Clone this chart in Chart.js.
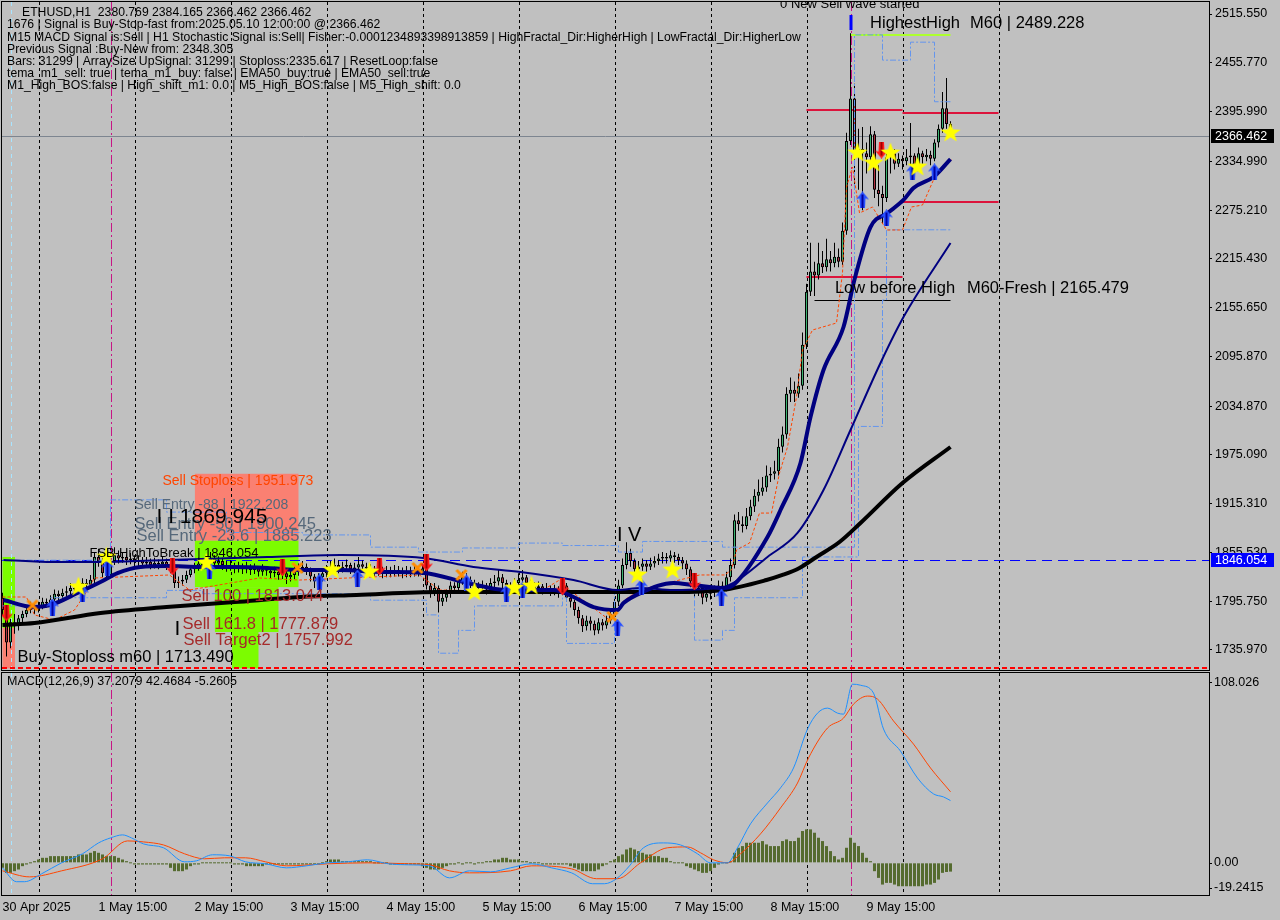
<!DOCTYPE html>
<html>
<head>
<meta charset="utf-8">
<title>ETHUSD,H1</title>
<script src="https://cdn.jsdelivr.net/npm/chart.js@4.4.1/dist/chart.umd.min.js"></script>
<style>
  html, body { margin: 0; padding: 0; background: #c0c0c0; }
  #wrap { position: relative; width: 1280px; height: 920px; overflow: hidden; background: #c0c0c0; }
  #wrap canvas { position: absolute; left: 0; }
  #priceChart { top: 0; }
  #macdChart { top: 671px; }
</style>
</head>
<body>
<div id="wrap">
  <canvas id="priceChart" width="1280" height="671"></canvas>
  <canvas id="macdChart" width="1280" height="249"></canvas>
</div>
<script>
// H1 bars, 30 Apr 15:00 -> 10 May 12:00 (index 0..237)
const firstOpen = 1800;
const closes = [
  1785,1745,1770,1765,1775,1780,1785,1788,1786,1790,
  1795,1793,1798,1805,1802,1806,1808,1812,1810,1815,
  1818,1816,1822,1850,1845,1830,1828,1845,1852,1848,
  1850,1846,1848,1844,1846,1842,1844,1840,1843,1841,
  1844,1840,1836,1818,1820,1822,1828,1835,1838,1842,
  1840,1844,1848,1842,1845,1840,1838,1840,1836,1838,
  1835,1838,1834,1836,1832,1835,1833,1830,1832,1828,
  1830,1825,1828,1832,1836,1838,1834,1826,1820,1825,
  1830,1834,1838,1840,1836,1838,1840,1835,1837,1841,
  1838,1836,1834,1832,1835,1830,1833,1831,1834,1832,
  1830,1833,1831,1834,1832,1836,1815,1808,1812,1795,
  1800,1805,1815,1812,1820,1825,1822,1818,1815,1812,
  1815,1810,1818,1820,1825,1818,1815,1812,1818,1822,
  1825,1818,1815,1812,1814,1810,1812,1808,1810,1806,
  1815,1800,1795,1785,1775,1765,1772,1768,1760,1770,
  1766,1772,1780,1795,1815,1840,1855,1845,1835,1838,
  1842,1838,1842,1845,1848,1850,1848,1852,1850,1846,
  1842,1835,1820,1808,1812,1800,1805,1810,1808,1815,
  1812,1825,1840,1895,1890,1888,1900,1912,1925,1930,
  1935,1950,1952,1955,1985,2000,2050,2055,2050,2060,
  2110,2175,2200,2195,2210,2205,2215,2210,2218,2212,
  2250,2360,2412,2346,2350,2345,2340,2368,2300,2295,
  2290,2340,2345,2332,2338,2335,2340,2342,2330,2345,
  2340,2343,2338,2358,2375,2400,2380.769,2366.462
];
const highs = [
  1806,1790,1774,1780,1779,1784,1790,1795,1792,1795,
  1800,1799,1803,1810,1809,1811,1814,1818,1816,1822,
  1824,1823,1828,1856,1860,1850,1838,1866,1862,1858,
  1856,1853,1855,1852,1852,1850,1850,1848,1849,1847,
  1850,1848,1843,1838,1826,1828,1833,1840,1843,1849,
  1847,1851,1856,1852,1851,1849,1845,1846,1843,1844,
  1842,1844,1841,1842,1839,1841,1839,1837,1838,1835,
  1836,1833,1834,1838,1842,1845,1842,1837,1829,1830,
  1836,1840,1845,1848,1846,1844,1847,1843,1843,1850,
  1846,1843,1841,1839,1841,1838,1839,1838,1840,1839,
  1837,1839,1838,1840,1839,1842,1840,1818,1818,1815,
  1806,1810,1820,1819,1826,1832,1830,1826,1822,1819,
  1821,1818,1824,1828,1834,1829,1822,1819,1824,1830,
  1834,1828,1822,1819,1820,1817,1818,1815,1816,1814,
  1822,1818,1804,1798,1789,1779,1778,1777,1772,1775,
  1774,1778,1787,1800,1822,1848,1868,1860,1848,1845,
  1848,1846,1849,1851,1854,1856,1855,1858,1856,1854,
  1850,1846,1838,1824,1818,1815,1812,1816,1815,1821,
  1820,1832,1848,1902,1905,1900,1910,1920,1933,1945,
  1948,1962,1960,1968,1995,2010,2058,2070,2065,2075,
  2125,2185,2235,2212,2235,2225,2240,2225,2235,2228,
  2260,2370,2492,2430,2375,2377,2358,2378,2372,2330,
  2305,2345,2352,2350,2345,2342,2350,2382,2345,2352,
  2348,2350,2348,2362,2380,2420,2437,2384.165
];
const lows = [
  1778,1728,1738,1756,1760,1770,1776,1781,1780,1782,
  1786,1788,1789,1795,1797,1798,1801,1803,1805,1806,
  1810,1810,1812,1818,1838,1825,1822,1825,1840,1842,
  1843,1840,1841,1838,1839,1837,1838,1835,1836,1835,
  1837,1834,1830,1812,1812,1815,1818,1825,1830,1833,
  1834,1836,1839,1836,1837,1834,1832,1833,1830,1831,
  1829,1830,1828,1829,1826,1827,1827,1824,1825,1822,
  1823,1817,1820,1823,1827,1831,1828,1820,1812,1815,
  1820,1825,1829,1832,1830,1831,1832,1829,1830,1832,
  1832,1830,1828,1826,1827,1824,1825,1825,1826,1826,
  1824,1825,1825,1826,1826,1828,1810,1800,1802,1782,
  1790,1795,1800,1806,1808,1816,1816,1812,1808,1806,
  1807,1804,1806,1813,1815,1812,1809,1806,1808,1814,
  1817,1812,1808,1806,1807,1804,1805,1802,1803,1800,
  1803,1795,1788,1778,1768,1758,1760,1760,1754,1756,
  1760,1762,1768,1775,1790,1812,1835,1838,1828,1830,
  1833,1832,1834,1837,1840,1842,1842,1844,1843,1840,
  1835,1828,1813,1800,1802,1792,1795,1798,1801,1803,
  1805,1808,1820,1836,1882,1880,1884,1895,1905,1918,
  1925,1930,1942,1945,1950,1978,1995,2040,2040,2045,
  2055,2105,2170,2170,2190,2198,2200,2200,2205,2205,
  2208,2245,2355,2300,2300,2275,2320,2330,2290,2280,
  2258,2285,2320,2325,2328,2325,2330,2330,2320,2325,
  2332,2335,2330,2335,2352,2370,2375,2366.462
];

const priceTicks = [2515.550, 2455.770, 2395.990, 2334.990, 2275.210, 2215.430, 2155.650,
  2095.870, 2034.870, 1975.090, 1915.310, 1855.530, 1795.750, 1735.970];
const timeLabels = ['30 Apr 2025', '1 May 15:00', '2 May 15:00', '3 May 15:00', '4 May 15:00',
  '5 May 15:00', '6 May 15:00', '7 May 15:00', '8 May 15:00', '9 May 15:00'];
const timeLabelIdx = [0, 24, 48, 72, 96, 120, 144, 168, 192, 216];
const daySeparators = [9, 33, 57, 81, 105, 129, 153, 177, 201, 225, 249];

// moving averages (bar index, price)
const emaSlowIdx = [0, 8, 24.5, 41, 58, 74.5, 88.5, 109.25, 142.75, 167.75, 180, 191, 195, 199.25, 203.5, 209.25, 214.5, 225, 237];
const emaSlowVal = [1766.6, 1769, 1781.4, 1788.6, 1794.7, 1800.9, 1803.4, 1807.0, 1807.0, 1807.0, 1809.5, 1821.7, 1827.9, 1836.5, 1850, 1868.3, 1891.6, 1940.6, 1984.8];
const emaFastIdx = [0.25, 7.75, 12, 18.75, 24.5, 28.75, 34.5, 41.25, 49.5, 57.75, 66.25, 74.5, 84.5, 94.5, 105.25, 116.25, 126.25, 137.75, 142.75, 147.75,
  153.75, 155.25, 159.5, 167.75, 172.75, 180.25, 182.75, 191.25, 194.5, 199.5, 202, 205.25, 210.25, 213, 217, 221.25, 225.25, 227.75, 232.75, 237];
const emaFastVal = [1797.2, 1788.6, 1791.1, 1805.8, 1819.3, 1830.3, 1837.7, 1838.9, 1837.7, 1837.7, 1836.5, 1834.0, 1834.0, 1831.6, 1830.4, 1818.1, 1809.5, 1809.5, 1800.9, 1788.6,
  1784.9, 1793.5, 1805.8, 1818.1, 1815.6, 1811.9, 1815.6, 1874.4, 1907.5, 1965.2, 2021.6, 2079.2, 2131.9, 2190, 2254.4, 2271.6, 2287.6, 2302.3, 2315.8, 2337.8];
const emaMidIdx = [0.25, 12.75, 24.5, 41.25, 66.25, 84.5, 105.25, 117.75, 129.5, 142.75, 153.75, 159.5, 167.75, 180.25, 182.75, 191.25, 198.75, 205.25, 212, 219.5, 225.25, 237];
const emaMidVal = [1846.3, 1843.8, 1843.8, 1846.3, 1849.9, 1852.4, 1848.7, 1837.7, 1831.6, 1821.7, 1809.5, 1811.9, 1809.5, 1813.2, 1818.1, 1850.0, 1879.4, 1932.1, 2005.6, 2087.8, 2144.1, 2234.8];
const trailIdx = [0, 6, 8, 13, 18, 20.5, 23, 41.75, 46.75, 64.25, 74.25, 104.25, 109.25, 134.25, 139.25, 141.75, 151.75, 155.5, 159.25, 174.25, 180.5,
  182.25, 183.5, 186.75, 189.25, 192.25, 194.25, 196.25, 198.5, 200, 202.5, 208.5, 210, 211, 212.5, 214.25, 217.5, 221, 225, 227.25, 230, 233.5, 237.25];
const trailVal = [1800.9, 1800.9, 1778.9, 1772.7, 1785.0, 1803.4, 1824.2, 1827.9, 1809.5, 1824.2, 1821.7, 1827.9, 1809.5, 1807.0, 1821.7, 1809.5, 1772.7, 1797.2, 1809.5, 1827.9, 1827.9,
  1834.0, 1858.5, 1867.1, 1903.8, 1903.8, 1952.9, 1984.8, 2046.1, 2103.7, 2128.2, 2136.8, 2198.1, 2303.5, 2328.0, 2271.6, 2279.0, 2250.8, 2250.8, 2279.0, 2281.4, 2320.6, 2336.6];
const bandUpIdx = [0, 27, 41, 56, 75, 92, 104, 115, 129, 140, 154, 160, 173, 180, 213, 220, 227, 233, 237];
const bandUpVal = [1846, 1920, 1905, 1880, 1877, 1862, 1856, 1861, 1867, 1864, 1856, 1869, 1869, 1862, 2490, 2459, 2481, 2408, 2408];
const bandLoIdx = [0, 12, 41, 50, 92, 106, 109, 114, 118, 140, 141, 153, 173, 180, 183, 200, 214, 220, 221, 237];
const bandLoVal = [1790, 1800, 1809, 1805, 1797, 1779, 1732, 1760, 1790, 1800, 1744, 1810, 1748, 1760, 1800, 1850, 2010, 2165, 2251, 2251];

// signal markers
const starIdx = [19, 26, 51, 82.5, 91.75, 118, 128, 132.25, 158.75, 167.5, 213.75, 217.75, 222, 228.75, 237];
const starPrice = [1813.2, 1850.0, 1842.6, 1834.0, 1831.6, 1807.0, 1811.9, 1814.4, 1827.9, 1834.0, 2345.2, 2332.9, 2345.2, 2328.0, 2369.7];
const buyArrowIdx = [12.5, 20, 26.25, 51.75, 79.25, 88.75, 116, 126, 130, 153.75, 159.75, 179.75, 215, 221, 227.5, 233];
const buyArrowPrice = [1788.6, 1805.8, 1836.5, 1834.0, 1819.3, 1824.2, 1818.1, 1805.8, 1809.5, 1763.8, 1813.2, 1800.9, 2287.6, 2265.5, 2321.9, 2321.9];
const sellArrowIdx = [1, 42.5, 70, 94.25, 106, 140, 173, 219.75];
const sellArrowPrice = [1781.3, 1837.7, 1836.5, 1837.7, 1842.6, 1813.2, 1819.3, 2348.8];
const crossIdx = [7.5, 73.75, 103.75, 114.75, 152.5];
const crossPrice = [1790.6, 1836.5, 1836.5, 1827.9, 1776.4];

// levels
const currentPrice = 2366.462;
const fsbHigh = 1846.054;
const buyStopM60 = 1713.490;
const highestHigh = 2489.228;
const lowBeforeHigh = 2165.479;
const sellLevels = { stop: 1951.973, e88: 1922.208, e50: 1900.245, e236: 1885.223, wave2: 1869.945, s100: 1813.044, s1618: 1777.879, target2: 1757.992 };
const dayHighLow = [{ from: 201, to: 225, hi: 2397.9, lo: 2193.2 }, { from: 225, to: 249, hi: 2394.2, lo: 2285.1 }];

// MACD(12,26,9)
const macdHist = [
  -3,-6,-6,-5,-4,-2,-1,0,1,2,
  3,3,4,4,4,4,4,4,4,5,
  5,5,6,7,6,5,4,4,4,3,
  2,1,0,-1,-1,-1,-1,-1,-1,-1,
  -1,-1,-3,-5,-5,-5,-4,-2,-1,-1,
  0,0,0,0,0,0,0,0,-1,-1,
  -1,-2,-2,-2,-2,-2,-1,-1,-1,-1,
  -1,-1,-1,-1,-1,-1,-1,-1,-1,-1,
  0,1,2,2,2,1,1,1,1,1,
  1,1,1,0,0,0,0,-1,-1,-1,
  -1,-1,-1,-1,-1,-2,-3,-4,-4,-4,
  -3,-2,-1,-1,0,-1,0,0,-1,0,
  0,1,1,2,2,3,3,2,2,2,
  1,1,0,0,0,-1,-1,-1,-1,-1,
  -1,-1,-2,-3,-4,-5,-5,-5,-5,-4,
  -2,-1,1,2,4,5,8,9,8,7,
  6,5,5,4,4,3,3,1,0,0,
  0,-2,-3,-4,-5,-6,-6,-5,-3,-1,
  0,0,1,6,9,10,12,12,12,12,
  13,11,10,10,10,13,14,13,13,15,
  19,20,20,18,15,13,10,7,4,2,
  3,9,15,12,10,6,3,1,-5,-9,
  -13,-12,-12,-13,-14,-14,-14,-14,-14,-14,
  -14,-13,-13,-12,-10,-6,-5.5,-5.2605
];
const macdMainIdx = [0, 3.5, 5.5, 9.75, 14.75, 20, 24, 27, 30, 32.25, 35.25, 40.25, 45.5, 48.5, 52.5, 56.75, 60.75, 65.75, 71, 76, 81.25,
  86.25, 91.25, 96.5, 101.5, 106.75, 111.75, 116.75, 122, 127, 132.25, 137.25, 142.25, 147.5, 150.5, 153.5, 156.75, 160.25, 165.25, 169.5, 173.75,
  177, 181.25, 183.75, 187, 191.25, 194.5, 197.75, 201.25, 203.75, 206.25, 208.75, 210.25, 212.5, 214.5, 217.75, 220.25, 224.5, 228.75, 232.75, 235.25, 237];
const macdMainVal = [-3, -11.3, -11.3, -6.6, 0, 5.4, 11.9, 14.9, 16.7, 14.9, 11.3, 9.0, 0.6, 1.2, 4.8, 4.2, 0.6, -0.6, -3.0, -1.8, 0,
  0.6, 1.8, -0.6, -1.2, -1.8, -9.0, -4.8, -5.4, -3.0, -0.6, -3.0, -6.0, -12.5, -12.5, -9.5, -1.8, 9.0, 11.9, 10.7, 5.4,
  0, 0, 9.0, 23.3, 35.8, 44.8, 56.7, 80.0, 89.5, 92.5, 89.5, 88.9, 106.8, 106.2, 101.5, 80.0, 66.8, 50.7, 41.2, 39.4, 37.2079];
const macdSignalIdx = [0, 6.75, 14.75, 25, 31.25, 35.25, 40.25, 45.5, 50.5, 55.5, 60.75, 65.75, 71, 81.25, 91.25, 101.5, 106.75, 111.75, 116.75, 127,
  132.25, 142.25, 148.5, 153.75, 159.5, 166.25, 171.25, 174.5, 177.75, 181.25, 184.5, 189.5, 194.5, 198.75, 201.5, 206.25, 210.25, 212.75, 216.25, 218.75,
  222.75, 227.75, 232, 237];
const macdSignalVal = [-4.8, -8.4, -4.8, 2.4, 13.1, 12.5, 10.7, 5.4, 2.4, 3.0, 3.0, 0.6, -1.8, -0.6, 0, -0.6, -1.2, -4.8, -6.0, -4.8,
  -1.8, -3.6, -9.5, -9.5, 0, 9.0, 9.5, 6.0, 1.8, 0, 5.4, 17.3, 32.8, 47.7, 62.7, 80.6, 86.5, 94.9, 99.7, 97.9,
  84.8, 71.0, 56.7, 42.4684];
const macdTicks = [108.026, 0, -19.2415];
const macdTickLabels = ['108.026', '0.00', '-19.2415'];

const infoLines = [
  'ETHUSD,H1  2380.769 2384.165 2366.462 2366.462',
  '1676 | Signal is Buy-Stop-fast from:2025.05.10 12:00:00 @ 2366.462',
  'M15 MACD Signal is:Sell | H1 Stochastic Signal is:Sell| Fisher:-0.0001234893398913859 | HighFractal_Dir:HigherHigh | LowFractal_Dir:HigherLow',
  'Previous Signal :Buy-New from: 2348.305',
  'Bars: 31299 | ArraySize UpSignal: 31299 | Stoploss:2335.617 | ResetLoop:false',
  'tema_m1_sell: true | tema_m1_buy: false | EMA50_buy:true | EMA50_sell:true',
  'M1_High_BOS:false | High_shift_m1: 0.0 | M5_High_BOS:false | M5_High_shift: 0.0'
];

// ---------------------------------------------------------------------------
const FONT = '"Liberation Sans", Arial, sans-serif';
Chart.defaults.font.family = FONT;
Chart.defaults.color = '#000';

const xMin = -0.125, xMax = 301.625; // 4 px per bar
const barIdx = closes.map((c, i) => i);
// crypto trades 24/7, each hourly bar opens at the previous close
const opens = closes.map((c, i) => i === 0 ? firstOpen : closes[i - 1]);
const pairs = (xs, ys) => xs.map((v, i) => ({ x: v, y: ys[i] }));

// the axes must not push the plot area around
function noScalePadding(s) {
  s.paddingTop = 0; s.paddingBottom = 0; s.paddingLeft = 0; s.paddingRight = 0;
}

function makeIcon(w, h, paint) {
  const c = document.createElement('canvas');
  c.width = w; c.height = h;
  paint(c.getContext('2d'));
  return c;
}
const starIcon = makeIcon(22, 22, g => {
  g.fillStyle = '#ffff00';
  g.beginPath();
  for (let k = 0; k < 10; k++) {
    const r = k % 2 ? 4.3 : 10.5;
    const a = -Math.PI / 2 + k * Math.PI / 5;
    g.lineTo(11 + r * Math.cos(a), 11 + r * Math.sin(a));
  }
  g.closePath();
  g.fill();
});
function arrowIcon(color, dark, up) {
  return makeIcon(13, 17, g => {
    if (!up) { g.translate(0, 17); g.scale(1, -1); }
    g.fillStyle = color;
    g.beginPath();
    g.moveTo(6.5, 0); g.lineTo(13, 8); g.lineTo(9.5, 7); g.lineTo(9, 17); g.lineTo(4, 17); g.lineTo(3.5, 7); g.lineTo(0, 8);
    g.closePath();
    g.fill();
    g.fillStyle = dark;
    g.fillRect(5.5, 3, 2, 14);
  });
}
const buyIcon = arrowIcon('#2850ff', '#0000a0', true);
const sellIcon = arrowIcon('#ff1a1a', '#a00000', false);
const crossIcon = makeIcon(14, 14, g => {
  g.strokeStyle = '#ff8c00';
  g.lineWidth = 3;
  g.beginPath();
  g.moveTo(2, 2); g.lineTo(12, 12);
  g.moveTo(12, 2); g.lineTo(2, 12);
  g.stroke();
});

function vline(ctx, x, top, bottom) {
  ctx.beginPath(); ctx.moveTo(x, top); ctx.lineTo(x, bottom); ctx.stroke();
}
function hline(ctx, x0, x1, y) {
  ctx.beginPath(); ctx.moveTo(x0, y); ctx.lineTo(x1, y); ctx.stroke();
}
const crisp = v => Math.round(v) + 0.5;

function drawVerticals(chart) {
  const { ctx, chartArea: a, scales: { x } } = chart;
  ctx.save();
  ctx.lineWidth = 1;
  ctx.strokeStyle = '#000';
  ctx.setLineDash([3, 3]);
  daySeparators.forEach(d => vline(ctx, crisp(x.getPixelForValue(d)), a.top, a.bottom));
  ctx.strokeStyle = '#c71585';
  ctx.setLineDash([9, 3, 2, 3]);
  [27, 212].forEach(d => vline(ctx, crisp(x.getPixelForValue(d)), a.top, a.bottom));
  ctx.strokeStyle = '#a8e4ff';
  ctx.setLineDash([4, 4]);
  vline(ctx, crisp(x.getPixelForValue(2)), a.top, a.bottom);
  ctx.restore();
}
function drawFrame(chart) {
  const { ctx, chartArea: a } = chart;
  ctx.save();
  ctx.strokeStyle = '#000';
  ctx.lineWidth = 1;
  ctx.strokeRect(a.left - 0.5, a.top - 0.5, a.right - a.left + 1, a.bottom - a.top + 1);
  ctx.restore();
}

const mainObjects = {
  id: 'mainObjects',
  beforeDatasetsDraw(chart) {
    const { ctx, chartArea: a, scales: { x, y } } = chart;
    const X = v => x.getPixelForValue(v), Y = v => y.getPixelForValue(v);
    ctx.save();
    ctx.beginPath();
    ctx.rect(a.left, a.top, a.right - a.left, a.bottom - a.top);
    ctx.clip();

    const zones = [
      { from: 0, to: 3.125, top: 1850, bottom: 1763, color: '#7cfc00' },
      { from: 0, to: 3.125, top: 1763, bottom: buyStopM60, color: '#fa8072' },
      { from: 48.1, to: 74, top: sellLevels.stop, bottom: sellLevels.wave2, color: '#fa8072' },
      { from: 48.1, to: 74, top: sellLevels.wave2, bottom: sellLevels.s100, color: '#7cfc00' },
      { from: 53.1, to: 69, top: sellLevels.s100, bottom: sellLevels.target2, color: '#7cfc00' },
      { from: 57.4, to: 64, top: sellLevels.target2, bottom: buyStopM60, color: '#7cfc00' }
    ];
    zones.forEach(z => {
      ctx.fillStyle = z.color;
      ctx.fillRect(X(z.from), Y(z.top), X(z.to) - X(z.from), Y(z.bottom) - Y(z.top));
    });

    drawVerticals(chart);

    ctx.lineWidth = 1;
    ctx.strokeStyle = '#7d8590';
    hline(ctx, a.left, a.right, crisp(Y(currentPrice)));
    ctx.strokeStyle = '#0000ff';
    ctx.setLineDash([10, 6]);
    hline(ctx, a.left, a.right, crisp(Y(fsbHigh)));
    ctx.strokeStyle = '#ff0000';
    ctx.lineWidth = 2;
    ctx.setLineDash([5, 3]);
    hline(ctx, a.left, a.right, Math.round(Y(buyStopM60)));
    ctx.setLineDash([]);

    ctx.strokeStyle = '#dc143c';
    ctx.lineWidth = 2;
    dayHighLow.forEach(d => {
      hline(ctx, X(d.from), X(d.to), Math.round(Y(d.hi)));
      hline(ctx, X(d.from), X(d.to), Math.round(Y(d.lo)));
    });
    ctx.strokeStyle = '#adff2f';
    hline(ctx, X(212), X(237), Math.round(Y(highestHigh)));
    ctx.strokeStyle = '#000';
    ctx.lineWidth = 1;
    hline(ctx, X(203), X(237), crisp(Y(lowBeforeHigh)));
    ctx.restore();
  },
  afterDatasetsDraw(chart) {
    const { ctx, chartArea: a, scales: { x, y } } = chart;
    const X = v => x.getPixelForValue(v), Y = v => y.getPixelForValue(v);
    ctx.save();
    ctx.beginPath();
    ctx.rect(a.left, a.top, a.right - a.left, a.bottom - a.top);
    ctx.clip();

    ctx.fillStyle = '#0000ff';
    ctx.fillRect(X(212) - 1, Y(2514.3), 3, Y(2495.9) - Y(2514.3));

    const notes = [
      { t: 'Sell Stoploss | 1951.973', i: 40, p: sellLevels.stop, size: 14, color: '#ff4500', base: 'top', dy: 0 },
      { t: 'Sell Entry -88 | 1922.208', i: 33, p: sellLevels.e88, size: 14, color: '#56687a', base: 'top', dy: 0 },
      { t: 'Sell Entry -50 | 1900.245', i: 33, p: sellLevels.e50, size: 16.5, color: '#56687a', base: 'top', dy: 0 },
      { t: 'Sell Entry -23.6 | 1885.223', i: 33.5, p: sellLevels.e236, size: 16.5, color: '#56687a', base: 'top', dy: 0 },
      { t: 'I I 1869.945', i: 38.5, p: sellLevels.wave2, size: 21, color: '#000', base: 'alphabetic', dy: -18 },
      { t: 'FSB-HighToBreak | 1846.054', i: 21.75, p: fsbHigh, size: 13, color: '#000', base: 'alphabetic', dy: -3 },
      { t: 'Sell 100 | 1813.044', i: 44.75, p: sellLevels.s100, size: 16.5, color: '#a52a2a', base: 'top', dy: 1 },
      { t: 'Sell 161.8 | 1777.879', i: 45, p: sellLevels.s1618, size: 16.5, color: '#a52a2a', base: 'top', dy: 0 },
      { t: 'Sell Target2 | 1757.992', i: 45.25, p: sellLevels.target2, size: 16.5, color: '#a52a2a', base: 'top', dy: 0 },
      { t: 'Buy-Stoploss m60 | 1713.490', i: 3.75, p: buyStopM60, size: 16.5, color: '#000', base: 'alphabetic', dy: -6 },
      { t: 'I', i: 43, p: sellLevels.s1618, size: 21, color: '#000', base: 'top', dy: 3 },
      { t: 'I V', i: 153.6, p: 1869.6, size: 20, color: '#000', base: 'alphabetic', dy: 0 },
      { t: 'HighestHigh', i: 216.9, p: highestHigh, size: 16.5, color: '#000', base: 'alphabetic', dy: -7 },
      { t: 'M60 | 2489.228', i: 241.9, p: highestHigh, size: 16.5, color: '#000', base: 'alphabetic', dy: -7 },
      { t: 'Low before High', i: 208.1, p: lowBeforeHigh, size: 16.5, color: '#000', base: 'alphabetic', dy: -7 },
      { t: 'M60-Fresh | 2165.479', i: 241.1, p: lowBeforeHigh, size: 16.5, color: '#000', base: 'alphabetic', dy: -7 },
      { t: '0 New Sell wave started', i: 194.4, p: priceTicks[0], size: 13, color: '#000', base: 'alphabetic', dy: -6 }
    ];
    notes.forEach(n => {
      ctx.font = n.size + 'px ' + FONT;
      ctx.fillStyle = n.color;
      ctx.textBaseline = n.base;
      ctx.textAlign = 'left';
      ctx.fillText(n.t, X(n.i), Y(n.p) + n.dy);
    });
    ctx.restore();
  },
  afterDraw(chart) {
    const { ctx, chartArea: a, scales: { y } } = chart;
    drawFrame(chart);
    ctx.save();
    ctx.font = '12.5px ' + FONT;
    ctx.textBaseline = 'middle';
    ctx.textAlign = 'left';
    [{ v: currentPrice, bg: '#000' }, { v: fsbHigh, bg: '#0000ff' }].forEach(b => {
      const py = Math.round(y.getPixelForValue(b.v));
      ctx.fillStyle = b.bg;
      ctx.fillRect(a.right + 2, py - 7, 63, 14);
      ctx.fillStyle = '#fff';
      ctx.fillText(b.v.toFixed(3), a.right + 6, py + 0.5);
    });
    ctx.fillStyle = '#000';
    ctx.font = '12.2px ' + FONT;
    infoLines.forEach((t, k) => ctx.fillText(t, k === 0 ? 22 : 7, 13 + k * 12.1));
    ctx.restore();
  }
};

const bull = '#3cb371', bear = '#b03040';
new Chart(document.getElementById('priceChart'), {
  type: 'bar',
  data: {
    datasets: [
      { type: 'scatter', data: pairs(starIdx, starPrice), pointStyle: starIcon, pointRadius: 6, order: 0 },
      { type: 'scatter', data: pairs(buyArrowIdx, buyArrowPrice), pointStyle: buyIcon, pointRadius: 6, order: 0 },
      { type: 'scatter', data: pairs(sellArrowIdx, sellArrowPrice), pointStyle: sellIcon, pointRadius: 6, order: 0 },
      { type: 'scatter', data: pairs(crossIdx, crossPrice), pointStyle: crossIcon, pointRadius: 6, order: 0 },
      { type: 'line', data: pairs(emaFastIdx, emaFastVal), borderColor: '#000080', borderWidth: 4, pointRadius: 0, cubicInterpolationMode: 'monotone', order: 1 },
      { type: 'line', data: pairs(emaMidIdx, emaMidVal), borderColor: '#000080', borderWidth: 2, pointRadius: 0, cubicInterpolationMode: 'monotone', order: 1 },
      { type: 'line', data: pairs(emaSlowIdx, emaSlowVal), borderColor: '#000000', borderWidth: 4, pointRadius: 0, cubicInterpolationMode: 'monotone', order: 1 },
      { type: 'line', data: pairs(trailIdx, trailVal), borderColor: '#ff4500', borderWidth: 1, borderDash: [3, 2], pointRadius: 0, order: 1.5 },
      { type: 'line', data: pairs(bandUpIdx, bandUpVal), borderColor: '#6495ed', borderWidth: 1, borderDash: [6, 2, 2, 2], stepped: 'before', pointRadius: 0, order: 1.5 },
      { type: 'line', data: pairs(bandLoIdx, bandLoVal), borderColor: '#6495ed', borderWidth: 1, borderDash: [6, 2, 2, 2], stepped: 'before', pointRadius: 0, order: 1.5 },
      {
        data: barIdx.map(i => ({ x: i, y: [opens[i], closes[i]] })),
        backgroundColor: c => closes[c.dataIndex] >= opens[c.dataIndex] ? bull : bear,
        borderColor: '#000', borderWidth: 1, borderSkipped: false,
        barThickness: 3, minBarLength: 1, grouped: false, inflateAmount: 0, order: 2
      },
      {
        data: barIdx.map(i => ({ x: i, y: [lows[i], highs[i]] })),
        backgroundColor: '#000', barThickness: 1, grouped: false, inflateAmount: 0, order: 3
      }
    ]
  },
  options: {
    responsive: false,
    animation: false,
    devicePixelRatio: 1,
    layout: { autoPadding: false, padding: { left: 2, top: 2, right: 0, bottom: 1 } },
    plugins: { legend: { display: false }, tooltip: { enabled: false } },
    scales: {
      x: { type: 'linear', display: false, min: xMin, max: xMax, offset: false },
      y: {
        position: 'right', min: 1711.43, max: 2530.26,
        afterBuildTicks: s => { s.ticks = priceTicks.map(v => ({ value: v })); },
        afterFit: s => { s.width = 71; noScalePadding(s); },
        grid: { drawOnChartArea: false, color: '#000', tickLength: 3 },
        border: { color: '#000' },
        ticks: { autoSkip: false, padding: 3, font: { size: 12.5 }, color: '#000', callback: v => v.toFixed(3) }
      }
    }
  },
  plugins: [mainObjects]
});

const macdObjects = {
  id: 'macdObjects',
  beforeDatasetsDraw(chart) {
    const { ctx, chartArea: a } = chart;
    ctx.save();
    ctx.beginPath();
    ctx.rect(a.left, a.top, a.right - a.left, a.bottom - a.top);
    ctx.clip();
    drawVerticals(chart);
    ctx.restore();
  },
  afterDraw(chart) {
    const { ctx, chartArea: a, scales: { y } } = chart;
    drawFrame(chart);
    ctx.save();
    ctx.font = '12.5px ' + FONT;
    ctx.fillStyle = '#000';
    ctx.strokeStyle = '#000';
    ctx.textBaseline = 'middle';
    ctx.fillText('MACD(12,26,9) 37.2079 42.4684 -5.2605', 7, 11);
    macdTicks.forEach((v, k) => {
      const py = Math.min(Math.max(y.getPixelForValue(v), a.top + 9), a.bottom - 7);
      hline(ctx, a.right, a.right + 3, crisp(py));
      ctx.fillText(macdTickLabels[k], a.right + 5, py);
    });
    ctx.restore();
  }
};

new Chart(document.getElementById('macdChart'), {
  type: 'bar',
  data: {
    datasets: [
      { type: 'line', data: pairs(macdMainIdx, macdMainVal), borderColor: '#1e90ff', borderWidth: 1, pointRadius: 0, cubicInterpolationMode: 'monotone', order: 0 },
      { type: 'line', data: pairs(macdSignalIdx, macdSignalVal), borderColor: '#ff4500', borderWidth: 1, pointRadius: 0, cubicInterpolationMode: 'monotone', order: 0 },
      {
        data: barIdx.map(i => ({ x: i, y: macdHist[i] })),
        backgroundColor: '#556b2f', barThickness: 3, minBarLength: 1, inflateAmount: 0, order: 1
      }
    ]
  },
  options: {
    responsive: false,
    animation: false,
    devicePixelRatio: 1,
    layout: { autoPadding: false, padding: { left: 2, top: 2, right: 0, bottom: 0 } },
    plugins: { legend: { display: false }, tooltip: { enabled: false } },
    scales: {
      x: {
        type: 'linear', min: xMin, max: xMax, offset: false,
        afterBuildTicks: s => { s.ticks = timeLabelIdx.map(v => ({ value: v })); },
        afterFit: s => { s.height = 25; noScalePadding(s); },
        grid: { drawOnChartArea: false, drawTicks: false },
        border: { color: '#000' },
        ticks: {
          autoSkip: false, maxRotation: 0, minRotation: 0, align: 'start', padding: 5,
          font: { size: 12.5 }, color: '#000',
          callback: (v, k) => timeLabels[k]
        }
      },
      y: {
        position: 'right', min: -19.2415, max: 113.5,
        afterFit: s => { s.width = 71; noScalePadding(s); },
        grid: { drawOnChartArea: false, drawTicks: false },
        border: { color: '#000' },
        ticks: { display: false }
      }
    }
  },
  plugins: [macdObjects]
});
</script>
</body>
</html>
